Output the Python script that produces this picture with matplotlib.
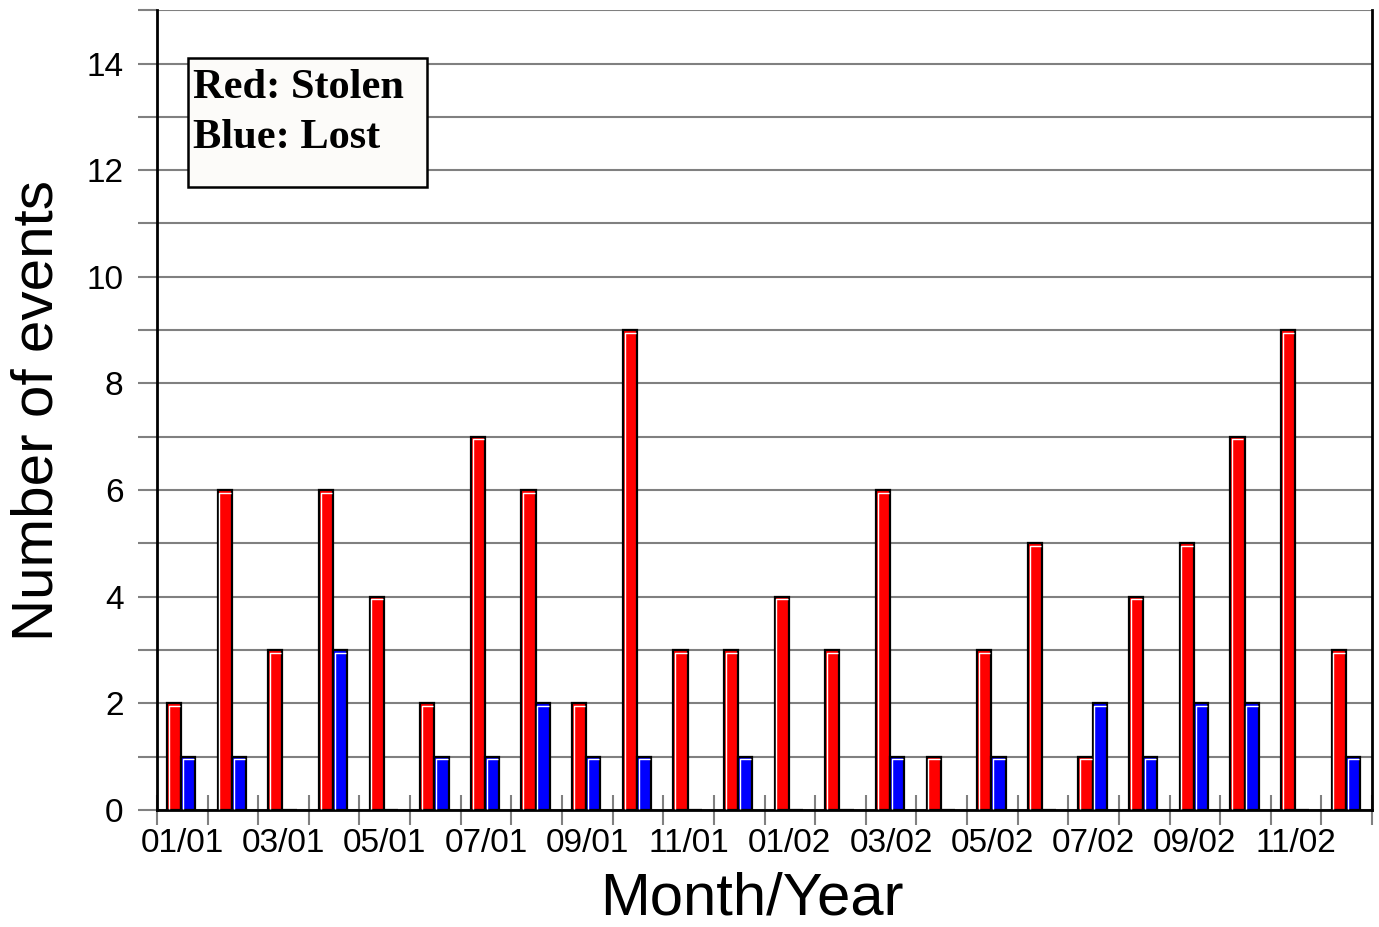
import numpy as np
import matplotlib.pyplot as plt
from matplotlib.patches import Rectangle

# monthly counts, Jan 2001 .. Dec 2002
months = [f"{m:02d}/{y:02d}" for y in (1, 2) for m in range(1, 13)]
stolen = [2, 6, 3, 6, 4, 2, 7, 6, 2, 9, 3, 3, 4, 3, 6, 1, 3, 5, 1, 4, 5, 7, 9, 3]
lost = [1, 1, 0, 3, 0, 1, 1, 2, 1, 1, 0, 1, 0, 0, 1, 0, 1, 0, 2, 1, 2, 2, 0, 1]

GRID = "#808080"
SANS = ["Liberation Sans", "DejaVu Sans"]
SERIF = ["Liberation Serif", "DejaVu Serif"]

fig = plt.figure(figsize=(13.79, 9.27), dpi=100)
ax = fig.add_axes([0.1138, 0.1262, 0.8812, 0.8628])

x = np.arange(len(months))
w = 0.28
ax.bar(x + 0.2, stolen, width=w, align="edge", color="#ff0000",
       edgecolor="black", linewidth=1.6, zorder=3)
ax.bar(x + 0.2 + w, lost, width=w, align="edge", color="#0000ff",
       edgecolor="black", linewidth=1.6, zorder=3)
# thin white highlight on top/left edge of each bar
for xs, vals in ((x + 0.2, stolen), (x + 0.2 + w, lost)):
    for xi, v in zip(xs, vals):
        if v > 0:
            ax.plot([xi + 0.035, xi + 0.035, xi + w - 0.02],
                    [0.02, v - 0.05, v - 0.05],
                    color="white", lw=1.0, zorder=4, solid_capstyle="butt")

ax.set_xlim(0, len(months))
ax.set_ylim(0, 15)

# y axis: gridline at every integer, labels on the even ones
ax.set_yticks(range(16))
ax.set_yticklabels([str(v) if v % 2 == 0 and v < 15 else "" for v in range(16)],
                   family=SANS, fontsize=24)
ax.tick_params(axis="y", length=14, width=1.5, color=GRID, pad=10)
ax.grid(True, axis="y", color=GRID, lw=1.5, zorder=0)

# x axis: ticks on month boundaries, labels centred on every other month
ax.set_xticks(range(len(months) + 1))
ax.set_xticklabels([])
ax.tick_params(axis="x", which="major", direction="inout", length=22,
               width=1.5, color=GRID)
ax.set_xticks(x[::2] + 0.5, minor=True)
ax.set_xticklabels(months[::2], minor=True, family=SANS, fontsize=24)
ax.tick_params(axis="x", which="minor", length=0, pad=13)

for s in ("left", "bottom", "right"):
    ax.spines[s].set_color("black")
    ax.spines[s].set_linewidth(2)
ax.spines["top"].set_visible(False)

ax.set_xlabel("Month/Year", family=SANS, fontsize=43)
ax.xaxis.set_label_coords(0.49, -0.077)
ax.set_ylabel("Number of events", family=SANS, fontsize=42)
ax.yaxis.set_label_coords(-0.076, 0.5)

# legend box
ax.add_patch(Rectangle((0.0255, 0.779), 0.1967, 0.161, transform=ax.transAxes,
                       facecolor="#fcfbf9", edgecolor="black", linewidth=1.8,
                       zorder=6))
ax.text(0.0296, 0.89, "Red: Stolen", transform=ax.transAxes, family=SERIF,
        fontweight="bold", fontsize=30.5, va="baseline", ha="left", zorder=7)
ax.text(0.0296, 0.8275, "Blue: Lost", transform=ax.transAxes, family=SERIF,
        fontweight="bold", fontsize=30.5, va="baseline", ha="left", zorder=7)

fig.savefig("out.png", dpi=100)
